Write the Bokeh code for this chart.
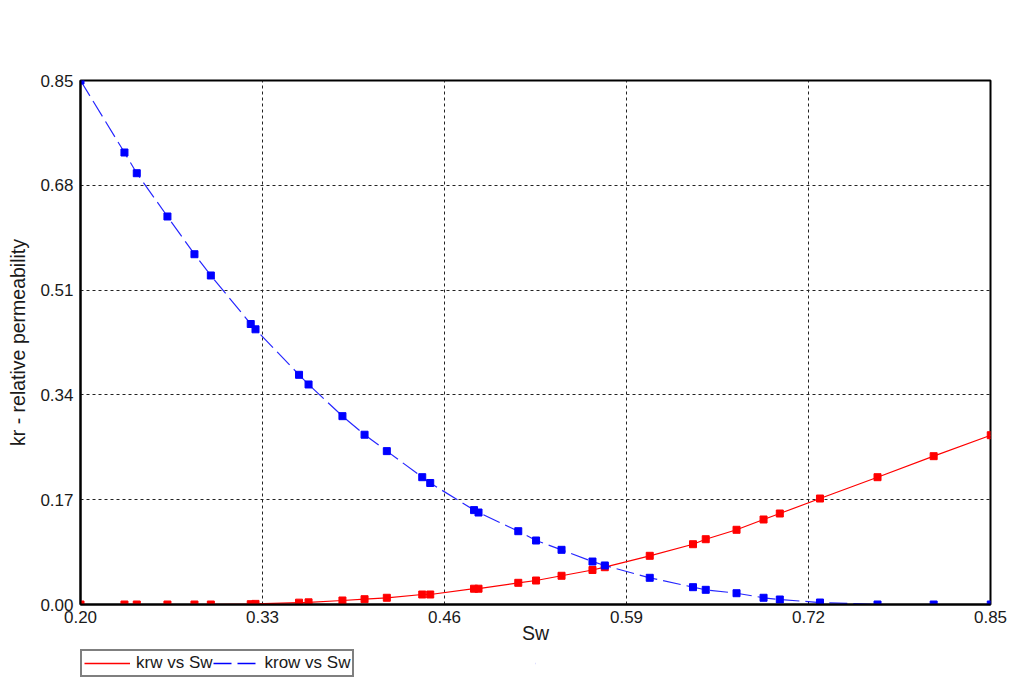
from bokeh.plotting import figure
from bokeh.layouts import column
from bokeh.models import Legend, LegendItem, FixedTicker, Range1d, NumeralTickFormatter
from bokeh.embed import file_html
from bokeh.resources import INLINE

# Water saturation
sw = [0.2000, 0.2314, 0.2402, 0.2621, 0.2814, 0.2931, 0.3216, 0.3250,
      0.3561, 0.3629, 0.3871, 0.4029, 0.4188, 0.4441, 0.4498, 0.4811,
      0.4843, 0.5127, 0.5254, 0.5436, 0.5657, 0.5745, 0.6066, 0.6375,
      0.6466, 0.6686, 0.6879, 0.6995, 0.7282, 0.7693, 0.8094, 0.8502]
# Water relative permeability
krw = [0.0, 0.0, 0.0, 0.0, 0.0, 0.0, 0.0005, 0.0010,
       0.0030, 0.0035, 0.0065, 0.0086, 0.0109, 0.0162, 0.0162, 0.0256,
       0.0256, 0.0352, 0.0389, 0.0466, 0.0560, 0.0605, 0.0790, 0.0978,
       0.1059, 0.1212, 0.1379, 0.1476, 0.1719, 0.2065, 0.2406, 0.2746]
# Oil relative permeability
krow = [0.8500, 0.7332, 0.6996, 0.6294, 0.5682, 0.5337, 0.4550, 0.4464,
        0.3726, 0.3569, 0.3055, 0.2754, 0.2488, 0.2065, 0.1971, 0.1531,
        0.1492, 0.1189, 0.1038, 0.0887, 0.0697, 0.0633, 0.0433, 0.0281,
        0.0238, 0.0183, 0.0109, 0.0081, 0.0032, 0.0, 0.0, 0.0]

x_ticks = [0.20, 0.33, 0.46, 0.59, 0.72, 0.85]
y_ticks = [0.00, 0.17, 0.34, 0.51, 0.68, 0.85]
series_labels = ["krw vs Sw", "krow vs Sw"]

FONT = "Liberation Sans"
FS = "17px"
FS_AX = "19.5px"
RED = "#ff0000"
BLUE = "#0000ff"

p = figure(width=1014, height=648, output_backend="svg", toolbar_location=None,
           x_range=Range1d(0.2, 0.85), y_range=Range1d(0.0, 0.85),
           min_border_left=80, min_border_right=24, min_border_top=80,
           min_border_bottom=44, background_fill_color="white",
           border_fill_color="white")

p.outline_line_color = "black"
p.outline_line_width = 2

for ax, ticks in ((p.xaxis[0], x_ticks), (p.yaxis[0], y_ticks)):
    ax.ticker = FixedTicker(ticks=ticks)
    ax.formatter = NumeralTickFormatter(format="0.00")
    ax.axis_line_color = "black"
    ax.axis_line_width = 2
    ax.major_tick_out = 0
    ax.major_tick_in = 0
    ax.minor_tick_out = 0
    ax.minor_tick_in = 0
    ax.major_label_text_font = FONT
    ax.major_label_text_font_size = FS
    ax.major_label_text_color = "#1a1a1a"
    ax.axis_label_text_font = FONT
    ax.axis_label_text_font_size = FS_AX
    ax.axis_label_text_font_style = "normal"
    ax.axis_label_text_color = "#1a1a1a"

p.xaxis.major_label_standoff = 6
p.yaxis.major_label_standoff = 7
p.xaxis.axis_label = "Sw"
p.xaxis.axis_label_standoff = -4
p.yaxis.axis_label = "kr - relative permeability"
p.yaxis.axis_label_standoff = 8

for g in (p.xgrid[0], p.ygrid[0]):
    g.grid_line_color = "#222222"
    g.grid_line_dash = "3 3"
    g.grid_line_width = 1

p.line(sw, krw, line_color=RED, line_width=1.2)
p.scatter(sw, krw, marker="square", size=7, fill_color=RED, line_color=RED)
p.line(sw, krow, line_color=BLUE, line_width=1.2, line_dash="18 6", line_alpha=0.85)
p.scatter(sw, krow, marker="square", size=7, fill_color=BLUE, line_color=BLUE)

# Legend strip below the chart (dummy zero-length renderers)
lg = figure(width=1014, height=30, output_backend="svg", toolbar_location=None,
            x_range=Range1d(0, 1), y_range=Range1d(0, 1),
            x_axis_type=None, y_axis_type=None,
            min_border_left=0, min_border_right=0, min_border_top=0,
            min_border_bottom=0, outline_line_color=None,
            background_fill_color="white", border_fill_color="white")
lg.xgrid.visible = False
lg.ygrid.visible = False
r1 = lg.line([0.5, 0.5], [0.5, 0.5], line_color=RED, line_width=1.5)
r2 = lg.line([0.5, 0.5], [0.5, 0.5], line_color=BLUE, line_width=1.5, line_dash="18 6")

legend = Legend(items=[LegendItem(label=series_labels[0], renderers=[r1]),
                       LegendItem(label=series_labels[1], renderers=[r2])],
                orientation="horizontal", location=(0, 1),
                glyph_width=46, glyph_height=12, label_standoff=6, spacing=0,
                padding=2, margin=0,
                label_text_font=FONT, label_text_font_size=FS,
                label_text_color="#1a1a1a",
                border_line_color="black", border_line_width=2,
                background_fill_color="white", background_fill_alpha=1.0)
lg.add_layout(legend, "center")

open("out.html", "w").write(file_html(column(p, lg, spacing=0), INLINE))
